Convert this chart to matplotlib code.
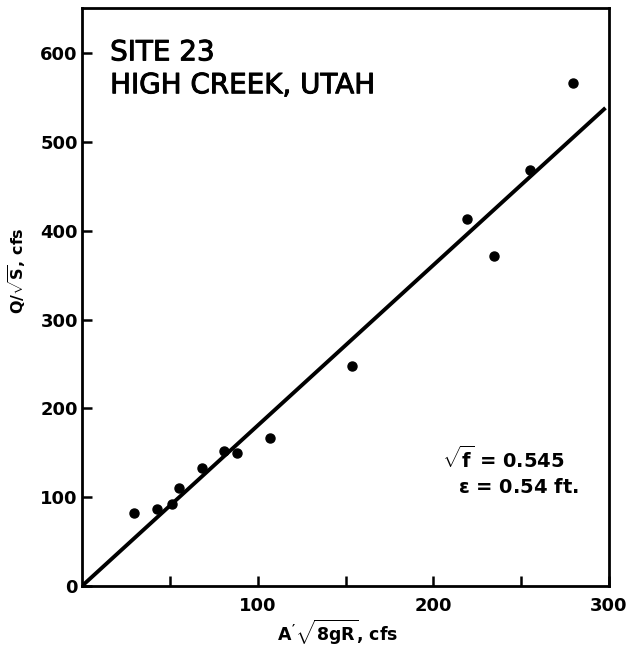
import matplotlib
matplotlib.use("Agg")
import matplotlib.pyplot as plt
import matplotlib.patheffects as pe

plt.rcParams["font.family"] = ["DejaVu Sans"]
plt.rcParams["mathtext.fontset"] = "custom"
plt.rcParams["mathtext.rm"] = "DejaVu Sans:bold"
plt.rcParams["mathtext.it"] = "DejaVu Sans:bold"
plt.rcParams["mathtext.bf"] = "DejaVu Sans:bold"
plt.rcParams["mathtext.sf"] = "DejaVu Sans:bold"

# Observed discharges, High Creek (site 23)
a_sqrt_8gR = [29.6, 42.5, 51.1, 55.4, 68.1, 80.8, 88.4, 107.3,
              153.7, 218.9, 234.5, 255.0, 279.5]
q_over_sqrt_s = [82.5, 86.7, 92.0, 110.0, 133.2, 152.4, 150.1, 166.7,
                 247.7, 413.6, 372.0, 468.5, 566.0]

# Fitted relation drawn through the origin
fit_x = [0.0, 298.0]
fit_y = [0.0, 538.5]

x_ticks = [50, 100, 150, 200, 250, 300]
x_tick_labels = ["", "100", "", "200", "", "300"]
y_ticks = [0, 100, 200, 300, 400, 500, 600]
y_tick_labels = ["0", "100", "200", "300", "400", "500", "600"]

fig = plt.figure(figsize=(6.32, 6.48), dpi=100)
ax = fig.add_axes([82 / 632, 1 - 586 / 648, 527 / 632, 578 / 648])

ax.plot(fit_x, fit_y, color="black", lw=2.8, solid_capstyle="butt", zorder=2)
ax.plot(a_sqrt_8gR, q_over_sqrt_s, "o", color="black", ms=6.5, zorder=3)

ax.set_xlim(0, 300)
ax.set_ylim(0, 651)
ax.set_xticks(x_ticks)
ax.set_xticklabels(x_tick_labels)
ax.set_yticks(y_ticks)
ax.set_yticklabels(y_tick_labels)

for side in ax.spines.values():
    side.set_linewidth(2.0)
ax.tick_params(axis="both", direction="in", length=7.5, width=1.8,
               labelsize=13)
ax.tick_params(axis="x", pad=8)
ax.tick_params(axis="y", pad=3)
for lab in ax.get_xticklabels() + ax.get_yticklabels():
    lab.set_fontweight("bold")

heavy = [pe.withStroke(linewidth=0.7, foreground="black")]
ax.text(16, 592, "SITE 23", fontsize=20, va="baseline", ha="left",
        path_effects=heavy)
ax.text(16, 555, "HIGH CREEK, UTAH", fontsize=20, va="baseline", ha="left",
        path_effects=heavy)

ax.text(205, 133, r"$\sqrt{f}$ = 0.545", fontsize=14, fontweight="bold",
        va="baseline", ha="left")
ax.text(214, 104.7, r"$\epsilon$ = 0.54 ft.", fontsize=14, fontweight="bold",
        va="baseline", ha="left")

fig.text(338 / 632, 1 - 632 / 648, r"$A'\sqrt{8gR}$, cfs", fontsize=12.5,
         fontweight="bold", ha="center", va="center")
fig.text(17.5 / 632, 1 - 271 / 648, r"$Q/\sqrt{S}$, cfs", fontsize=11.5,
         fontweight="bold", ha="center", va="center", rotation=90)

fig.savefig("out.png", dpi=100)
